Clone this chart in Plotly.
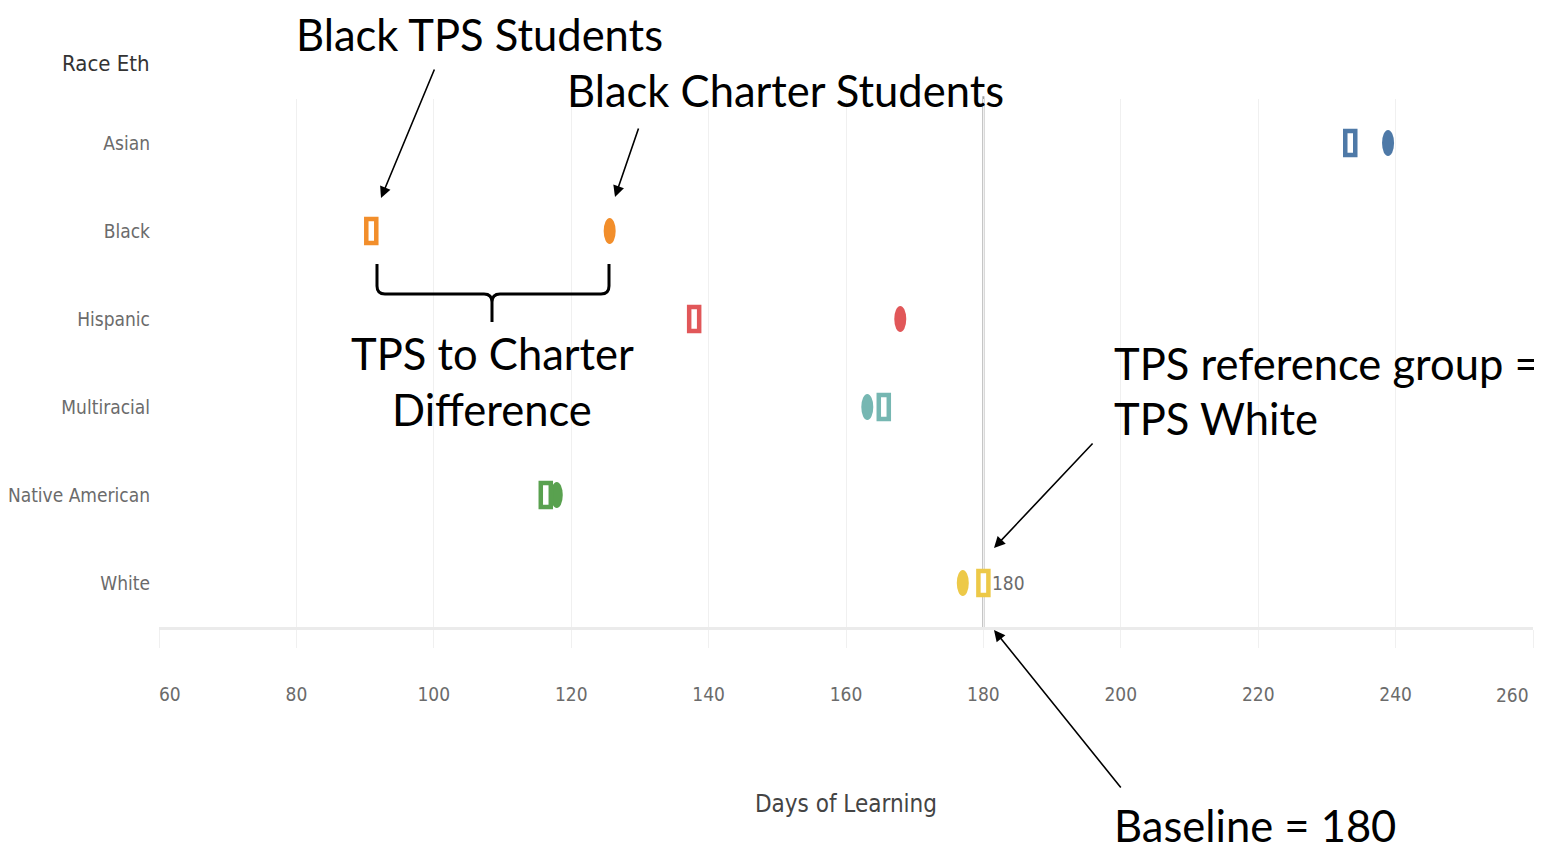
import plotly.graph_objects as go

categories = ["Asian", "Black", "Hispanic", "Multiracial", "Native American", "White"]
tps_days = [233.4, 90.9, 137.9, 165.5, 116.3, 180.0]
charter_days = [238.9, 125.6, 167.9, 163.1, 117.9, 177.0]
colors = ["#4e79a7", "#f28e2b", "#e15759", "#76b7b2", "#59a14f", "#edc948"]
x_ticks = [60, 80, 100, 120, 140, 160, 180, 200, 220, 240, 260]
baseline = 180

OFF = 8                      # default page body margin
W, H = 1542 - OFF, 851 - OFF
L, R, T, B = 159, 1533, 99, 627   # plot area in screen pixels
PW, PH = R - L, B - T


def px(xp):
    return (xp - L) / PW


def py(yp):
    return (B - yp) / PH


xr = (60, 260)
upx = (xr[1] - xr[0]) / PW  # data units per pixel
cpx = 1.0 / 88.0            # category units per pixel

cond = "DejaVu Sans Condensed, Liberation Sans Narrow, Roboto, sans-serif"
tick_font = dict(family=cond, size=19, color="#6b6b6b")
note_font = dict(family="Lato, Open Sans, sans-serif", size=43.5, color="#000000")

fig = go.Figure()

fig.add_trace(go.Scatter(x=tps_days, y=categories, mode="markers", name="TPS",
                         marker=dict(size=1, color="rgba(0,0,0,0)"),
                         hovertemplate="%{y} TPS: %{x}<extra></extra>", showlegend=False))
fig.add_trace(go.Scatter(x=charter_days, y=categories, mode="markers", name="Charter",
                         marker=dict(size=1, color="rgba(0,0,0,0)"),
                         hovertemplate="%{y} Charter: %{x}<extra></extra>", showlegend=False))

shapes = []
shapes.append(dict(type="line", xref="x", yref="paper", x0=baseline, x1=baseline,
                   y0=0, y1=1.005, line=dict(color="#a0a0a0", width=2), layer="below"))

# charter ellipses
for i, (v, c) in enumerate(zip(charter_days, colors)):
    shapes.append(dict(type="circle", xref="x", yref="y",
                       x0=v - 6 * upx, x1=v + 6 * upx,
                       y0=i - 13 * cpx, y1=i + 13 * cpx,
                       fillcolor=c, line=dict(width=0)))
# TPS hollow rectangles
for i, (v, c) in enumerate(zip(tps_days, colors)):
    shapes.append(dict(type="rect", xref="x", yref="y",
                       x0=v - 5 * upx, x1=v + 5 * upx,
                       y0=i - 12 * cpx, y1=i + 12 * cpx,
                       fillcolor="white", line=dict(color=c, width=4.5)))


def P(x, y):
    return f"{px(x):.5f},{py(y):.5f}"


brace = ("M " + P(377, 264) + " L " + P(377, 286) + " Q " + P(377, 294) + " " + P(385, 294)
         + " L " + P(484, 294) + " Q " + P(492, 294) + " " + P(492, 302)
         + " L " + P(492, 322)
         + " M " + P(492, 302) + " Q " + P(492, 294) + " " + P(500, 294)
         + " L " + P(601, 294) + " Q " + P(609, 294) + " " + P(609, 286)
         + " L " + P(609, 264))
shapes.append(dict(type="path", xref="paper", yref="paper", path=brace,
                   line=dict(color="black", width=3)))

annotations = []


def text_ann(t, x, y, xanchor="center", font=note_font):
    annotations.append(dict(text=t, xref="paper", yref="paper", x=px(x), y=py(y),
                            xanchor=xanchor, yanchor="middle", showarrow=False, font=font,
                            borderpad=0))


text_ann("Black TPS Students", 479, 34)
text_ann("Black Charter Students", 785, 90)
text_ann("TPS to Charter", 492, 353)
text_ann("Difference", 492, 409)
text_ann("TPS reference group =", 1113, 363, "left")
text_ann("TPS White", 1113, 418, "left")
text_ann("Baseline = 180", 1113, 825, "left")
text_ann("Race Eth", 151, 63, "right", dict(family=cond, size=22, color="#333333"))


def arrow(tail, head):
    annotations.append(dict(text="", xref="paper", yref="paper", x=px(head[0]), y=py(head[1]),
                            ax=tail[0] - head[0], ay=tail[1] - head[1], showarrow=True,
                            arrowhead=2, arrowsize=1.4, arrowwidth=1.6, arrowcolor="black"))


arrow((435, 68), (381, 198))
arrow((639, 127), (615, 197))
arrow((1094, 442), (994, 548))
arrow((1122, 789), (994, 630))

white_i = categories.index("White")
annotations.append(dict(text=f"{tps_days[white_i]:.0f}", xref="x", yref="y",
                        x=tps_days[white_i], y=categories[white_i], xanchor="left",
                        xshift=7, showarrow=False, font=tick_font))

# edge tick labels aligned inward (as in the reference)
tick_text = [str(t) for t in x_ticks]
tick_text[0] = "\u00a0" * 4 + tick_text[0]
last_label = tick_text[-1]
tick_text[-1] = ""
annotations.append(dict(text=last_label, xref="x", yref="paper", x=x_ticks[-1], y=py(695),
                        xanchor="right", yanchor="middle", xshift=-2, showarrow=False,
                        font=tick_font))

fig.update_layout(
    width=W, height=H, autosize=False,
    margin=dict(l=L - OFF, r=W - (R - OFF), t=T - OFF, b=H - (B - OFF), pad=0),
    paper_bgcolor="white", plot_bgcolor="white",
    shapes=shapes, annotations=annotations, showlegend=False,
    xaxis=dict(range=list(xr), tickvals=x_ticks, ticktext=tick_text, automargin=False,
               showgrid=True, gridcolor="#f0f0f0", gridwidth=1, zeroline=False,
               showline=True, linecolor="#ebebeb", linewidth=3,
               ticks="outside", ticklen=18, tickcolor="#f0f0f0", tickwidth=1,
               ticklabelstandoff=30, tickfont=tick_font,
               title=dict(text="Days of Learning", standoff=92,
                          font=dict(family=cond, size=24, color="#444444"))),
    yaxis=dict(categoryorder="array", categoryarray=categories, range=[5.5, -0.5],
               automargin=False, showgrid=False, zeroline=False, showline=False, ticks="",
               ticklabelstandoff=8, tickfont=tick_font),
)

fig.write_html("out.html")
